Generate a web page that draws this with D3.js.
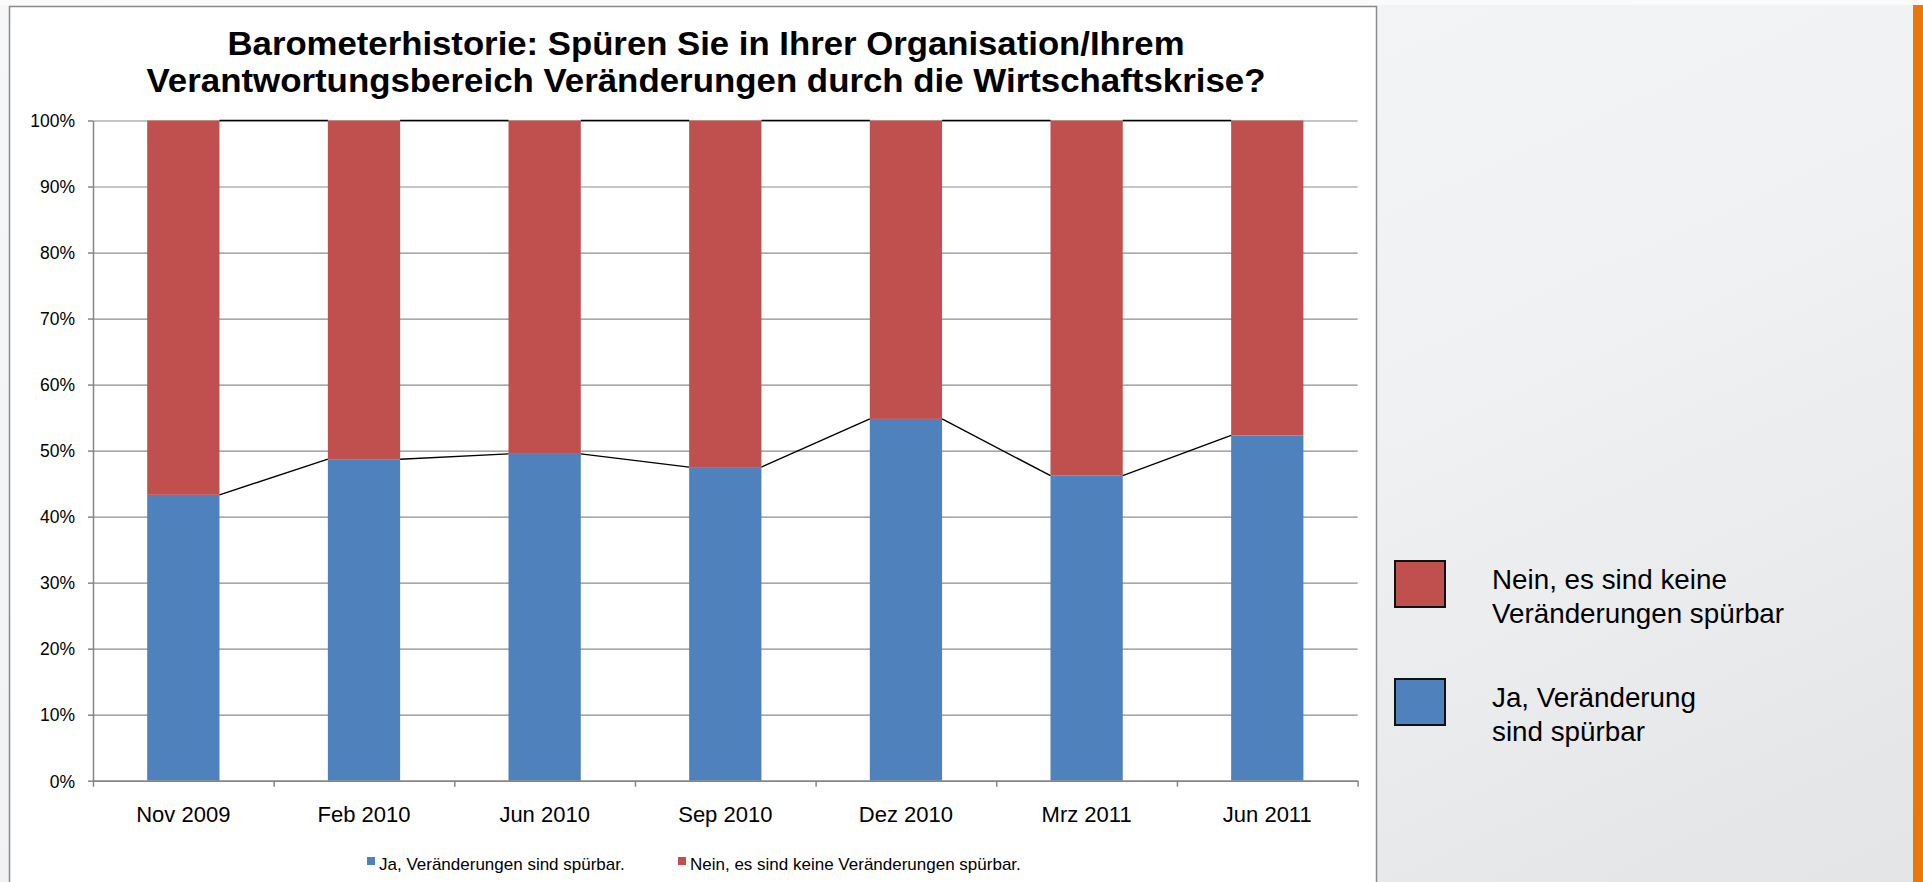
<!DOCTYPE html>
<head>
	<meta charset="utf-8">
	<title>Barometerhistorie</title>
</head>
<style>

body {
  margin: 0;
  overflow: hidden;
}

text {
  font-family: "Liberation Sans", Arial, sans-serif;
  fill: #000;
}

.grid line {
  stroke: #8c8c8c;
  stroke-width: 1.2px;
}

.grid path {
  display: none;
}

.axis path, .axis line {
  stroke: #868686;
  stroke-width: 1.5px;
}

</style>
<svg id="svg" width="1923" height="882"></svg>
<script src="https://d3js.org/d3.v7.min.js"></script>
<script>

// values (percent)
var categories = ["Nov 2009", "Feb 2010", "Jun 2010", "Sep 2010", "Dez 2010", "Mrz 2011", "Jun 2011"];
var jaValues = [43.3, 48.7, 49.5, 47.5, 54.8, 46.2, 52.3];
var neinValues = [56.7, 51.3, 50.5, 52.5, 45.2, 53.8, 47.7];
var yTicks = [0, 10, 20, 30, 40, 50, 60, 70, 80, 90, 100];
var seriesNames = ["Ja, Veränderungen sind spürbar.", "Nein, es sind keine Veränderungen spürbar."];
var sideLegend = [["Nein, es sind keine", "Veränderungen spürbar"], ["Ja, Veränderung", "sind spürbar"]];
var titleLines = ["Barometerhistorie: Spüren Sie in Ihrer Organisation/Ihrem",
                  "Verantwortungsbereich Veränderungen durch die Wirtschaftskrise?"];
var titleWidths = [957, 1119];

var colors = ["#4f81bd", "#c0504d"];

var svg = d3.select("svg"),
    width = +svg.attr("width"),
    height = +svg.attr("height");

// slide background
var defs = svg.append("defs");
var bg = defs.append("linearGradient")
    .attr("id", "bg")
    .attr("x1", "0").attr("y1", "0")
    .attr("x2", "1").attr("y2", "1");
bg.append("stop").attr("offset", "0").attr("stop-color", "#f6f7f8");
bg.append("stop").attr("offset", "0.6").attr("stop-color", "#f0f1f3");
bg.append("stop").attr("offset", "1").attr("stop-color", "#e3e4e6");

svg.append("rect")
    .attr("width", width)
    .attr("height", height)
    .attr("fill", "url(#bg)");

svg.append("rect")
    .attr("x", 0).attr("y", 0)
    .attr("width", width).attr("height", 5)
    .attr("fill", "#fbfbfb");

// orange stripe on the right
svg.append("rect")
    .attr("x", 1913).attr("y", 5)
    .attr("width", 10).attr("height", height)
    .attr("fill", "#e8780c");

// chart box
svg.append("rect")
    .attr("x", 9.5).attr("y", 6.5)
    .attr("width", 1367).attr("height", height)
    .attr("fill", "#fff")
    .attr("stroke", "#8a8a8a")
    .attr("stroke-width", 1.5);

var plot = {left: 93, right: 1357.6, top: 120.5, bottom: 780.7};

var x = d3.scaleBand()
    .domain(categories)
    .range([plot.left, plot.right])
    .padding(0);

var xEdge = d3.scaleLinear()
    .domain([0, categories.length])
    .range([plot.left, plot.right]);

var y = d3.scaleLinear()
    .domain([0, 100])
    .range([plot.bottom, plot.top]);

var barW = x.bandwidth() * 0.4;

// title
svg.append("g").selectAll("text")
    .data(titleLines)
    .enter().append("text")
      .attr("x", 706)
      .attr("y", function(d, i) { return 55 + i * 37; })
      .attr("text-anchor", "middle")
      .attr("font-size", "34px")
      .attr("font-weight", "bold")
      .attr("textLength", function(d, i) { return titleWidths[i]; })
      .attr("lengthAdjust", "spacingAndGlyphs")
      .text(function(d) { return d; });

// gridlines
svg.append("g")
    .attr("class", "grid")
    .attr("transform", "translate(" + plot.left + ",0)")
    .call(d3.axisLeft(y).tickValues(yTicks).tickSize(-(plot.right - plot.left)).tickFormat(""));

// stacked bars
var rows = categories.map(function(c, i) { return {cat: c, ja: jaValues[i], nein: neinValues[i]}; });
var stack = d3.stack().keys(["ja", "nein"]);
var layers = stack(rows);

svg.append("g")
    .selectAll("g")
    .data(layers)
    .enter().append("g")
      .attr("fill", function(d, i) { return colors[i]; })
    .selectAll("rect")
    .data(function(d) { return d; })
    .enter().append("rect")
      .attr("x", function(d) { return x(d.data.cat) + (x.bandwidth() - barW) / 2; })
      .attr("y", function(d) { return y(d[1]); })
      .attr("width", barW)
      .attr("height", function(d) { return y(d[0]) - y(d[1]); });

// series lines between bar tops
var segLine = d3.line();
layers.forEach(function(layer) {
  var segs = [];
  for (var i = 0; i < layer.length - 1; ++i) {
    var a = layer[i], b = layer[i + 1];
    segs.push([
      [x(a.data.cat) + (x.bandwidth() + barW) / 2, y(a[1])],
      [x(b.data.cat) + (x.bandwidth() - barW) / 2, y(b[1])]
    ]);
  }
  svg.append("g").selectAll("path")
      .data(segs)
      .enter().append("path")
        .attr("d", segLine)
        .attr("fill", "none")
        .attr("stroke", "#000")
        .attr("stroke-width", 1.4);
});

// y axis
var yAxis = svg.append("g")
    .attr("class", "axis")
    .attr("transform", "translate(" + plot.left + ",0)")
    .call(d3.axisLeft(y).tickValues(yTicks).tickSize(5).tickSizeOuter(0)
          .tickFormat(function(d) { return d + "%"; }));
yAxis.selectAll("text")
    .attr("x", -18)
    .attr("dy", "0.36em")
    .attr("font-size", "17.5px")
    .attr("font-family", null)
    .attr("fill", "#000");

// x axis: ticks at category edges, labels at centres
svg.append("g")
    .attr("class", "axis")
    .attr("transform", "translate(0," + plot.bottom + ")")
    .call(d3.axisBottom(xEdge).tickValues(d3.range(categories.length + 1)).tickSize(6).tickSizeOuter(0).tickFormat(""));

var xLabels = svg.append("g")
    .attr("transform", "translate(0," + plot.bottom + ")")
    .call(d3.axisBottom(x).tickSize(0).tickPadding(0));
xLabels.select(".domain").remove();
xLabels.selectAll("text")
    .attr("y", 41)
    .attr("dy", null)
    .attr("font-size", "22px")
    .attr("font-family", null)
    .attr("fill", "#000");

// bottom legend
var legendX = [367, 678];
var leg = svg.append("g").selectAll("g")
    .data(seriesNames)
    .enter().append("g")
      .attr("transform", function(d, i) { return "translate(" + legendX[i] + ",857)"; });
leg.append("rect")
    .attr("width", 8).attr("height", 8)
    .attr("fill", function(d, i) { return colors[i]; });
leg.append("text")
    .attr("x", 12)
    .attr("y", 13)
    .attr("font-size", "17px")
    .text(function(d) { return d; });

// legend on the slide
var sideColors = [colors[1], colors[0]];
var side = svg.append("g").selectAll("g")
    .data(sideLegend)
    .enter().append("g")
      .attr("transform", function(d, i) { return "translate(1395," + (561 + i * 118) + ")"; });
side.append("rect")
    .attr("width", 50).attr("height", 46)
    .attr("fill", function(d, i) { return sideColors[i]; })
    .attr("stroke", "#111")
    .attr("stroke-width", 2);
side.each(function(d) {
  d3.select(this).selectAll("text")
      .data(d)
      .enter().append("text")
        .attr("x", 97)
        .attr("y", function(t, j) { return 28 + j * 34; })
        .attr("font-size", "27.8px")
        .text(function(t) { return t; });
});

</script>
